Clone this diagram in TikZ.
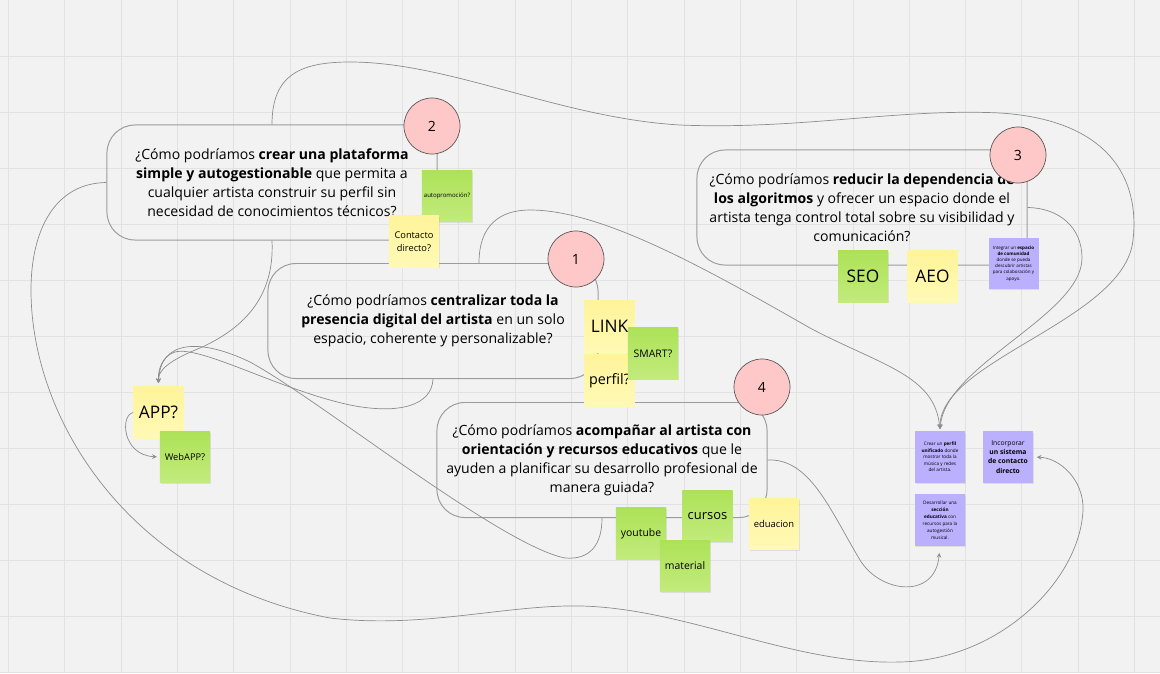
\documentclass[tikz,border=0pt]{standalone}
\usepackage{fontspec}
\setmainfont{Open Sans}
\usepackage{tikz}
\usepackage{xcolor}
\usetikzlibrary{arrows,calc,shadows}
\definecolor{paper}{RGB}{242,242,242}
\definecolor{gridgray}{RGB}{226,226,226}
\definecolor{boxgray}{RGB}{156,156,156}
\definecolor{linkgray}{RGB}{140,140,140}
\definecolor{numberpink}{RGB}{255,200,200}
\definecolor{yellowtop}{RGB}{255,244,154}
\definecolor{yellowbot}{RGB}{255,249,181}
\definecolor{greentop}{RGB}{173,226,88}
\definecolor{greenbot}{RGB}{194,235,124}
\definecolor{lilac}{RGB}{186,176,253}

\begin{document}
\begin{tikzpicture}[
    x=0.025cm, y=-0.025cm,
    every node/.style={align=center, font=\fontsize{10}{13.5}\selectfont},
    question/.style={rectangle, rounded corners=0.7cm, minimum width=8.25cm, minimum height=2.875cm, draw=boxgray, line width=0.7pt},
    number/.style={circle, minimum size=1.4cm, inner sep=0pt, draw=black!65, fill=numberpink, line width=0.5pt},
    sticky/.style={rectangle, minimum width=1.25cm, minimum height=1.28cm, inner sep=1pt, drop shadow={opacity=0.18, shadow xshift=0.5pt, shadow yshift=-0.9pt}},
    yellownote/.style={sticky, top color=yellowtop, bottom color=yellowbot},
    greennote/.style={sticky, top color=greentop, bottom color=greenbot},
    purplenote/.style={sticky, fill=lilac},
    big/.style={font=\fontsize{12.3}{14}\selectfont},
    small/.style={font=\fontsize{7.4}{9.5}\selectfont},
    tiny/.style={font=\fontsize{3.3}{4.6}\selectfont},
    link/.style={draw=linkgray, line width=0.5pt},
    arrow/.style={link, ->, >=stealth}
]
\useasboundingbox (0,0) rectangle (1160,673);
\fill[paper] (0,0) rectangle (1160,673);

% board grid
\foreach \gx in {0,...,20}
    \draw[gridgray, line width=0.6pt] ({8.5+56.3*\gx},0) -- ({8.5+56.3*\gx},673);
\foreach \gy in {1,...,12}
    \draw[gridgray, line width=0.6pt] (0,{56*\gy}) -- (1160,{56*\gy});

% question boxes
\node[question] (q2) at (272,182.5) {¿Cómo podríamos \textbf{crear una plataforma}\\\textbf{simple y autogestionable} que permita a\\cualquier artista construir su perfil sin\\necesidad de conocimientos técnicos?};
\node[question] (q1) at (433,321) {¿Cómo podríamos \textbf{centralizar toda la}\\\textbf{presencia digital del artista} en un solo\\espacio, coherente y personalizable?};
\node[question] (q3) at (862,207.5) {¿Cómo podríamos \textbf{reducir la dependencia de}\\\textbf{los algoritmos} y ofrecer un espacio donde el\\artista tenga control total sobre su visibilidad y\\comunicación?};
\node[question] (q4) at (602,460) {¿Cómo podríamos \textbf{acompañar al artista con}\\\textbf{orientación y recursos educativos} que le\\ayuden a planificar su desarrollo profesional de\\manera guiada?};

% numbers
\node[number] (n2) at (432,126) {2};
\node[number] (n1) at (576,259) {1};
\node[number] (n3) at (1018,155) {3};
\node[number] (n4) at (762,387) {4};

% ideas
\node[greennote, font=\fontsize{4.3}{5}\selectfont] (autog) at (447,196) {autopromoción?};
\node[yellownote, font=\fontsize{6.6}{9.5}\selectfont] (contacto) at (414,241.5) {Contacto\\directo?};
\node[yellownote, big] (linknote) at (609.5,326.5) {LINK};
\node[yellownote, font=\fontsize{10.2}{12}\selectfont] (perfil) at (609.5,380.5) {perfil?};
\node[greennote, small] (smart) at (653,353.5) {SMART?};
\node[greennote, big] (seo) at (863,276.5) {SEO};
\node[yellownote, big] (aeo) at (932.5,276.5) {AEO};
\node[purplenote, font=\fontsize{3.2}{4.4}\selectfont] (pd) at (1013.5,263.5) {Integrar un \textbf{espacio}\\\textbf{de comunidad}\\donde se pueda\\descubrir artistas\\para colaboración y\\apoyo.};
\node[yellownote, big] (app) at (158.5,412.5) {APP?};
\node[greennote, font=\fontsize{6.6}{8}\selectfont] (webapp) at (185,457) {WebAPP?};
\node[greennote, small] (youtube) at (641,533.5) {youtube};
\node[greennote, font=\fontsize{9.2}{11}\selectfont] (cursos) at (707.5,516) {cursos};
\node[greennote, small] (material) at (685,566) {material};
\node[yellownote, font=\fontsize{6.7}{8}\selectfont] (eduacion) at (774,524) {eduacion};

% solutions
\node[purplenote, tiny] (pa) at (940,457) {Crear un \textbf{perfil}\\\textbf{unificado} donde\\mostrar toda la\\música y redes\\del artista.};
\node[purplenote, font=\fontsize{4.8}{6.5}\selectfont] (pb) at (1008,457) {Incorporar\\\textbf{un sistema}\\\textbf{de contacto}\\\textbf{directo}};
\node[purplenote, font=\fontsize{3.3}{5}\selectfont] (pc) at (940,520) {Desarrollar una\\\textbf{sección}\\\textbf{educativa} con\\recursos para la\\autogestión\\musical.};

% connectors into the solutions
\draw[arrow, shorten >=1.5pt] (q2.north) .. controls (272,75) and (300,62) .. (350,62) .. controls (450,62) and (560,118) .. (680,125) .. controls (800,130) and (900,108) .. (1000,113) .. controls (1110,120) and (1140,180) .. (1133,240) .. controls (1125,320) and (940,360) .. (pa.north);
\draw[arrow, shorten >=1.5pt] (q3.east) .. controls (1060,208) and (1082,228) .. (1082,258) .. controls (1082,315) and (945,365) .. (pa.north);
\draw[arrow, shorten >=1.5pt] ($(q1.north)+(46,0)$) .. controls (479,225) and (500,210) .. (530,210) .. controls (600,210) and (700,265) .. (810,328) .. controls (880,365) and (935,375) .. (pa.north);
\draw[arrow, shorten >=2.5pt] (q2.west) .. controls (55,183) and (31,230) .. (31,290) .. controls (31,420) and (130,580) .. (330,618) .. controls (430,630) and (520,600) .. (600,607) .. controls (700,615) and (800,665) .. (900,662) .. controls (1000,660) and (1080,580) .. (1083,510) .. controls (1084,480) and (1060,458) .. (pb.east);
\draw[arrow, shorten >=5pt] (q4.east) .. controls (810,458) and (830,510) .. (860,560) .. controls (880,593) and (935,600) .. (pc.south);

% connectors into APP?
\draw[arrow, shorten >=2.5pt] (q2.south) .. controls (275,300) and (240,330) .. (200,348) .. controls (170,360) and (158,370) .. (app.north);
\draw[arrow, shorten >=2.5pt] (q1.south) .. controls (432,405) and (400,415) .. (350,405) .. controls (280,390) and (200,345) .. (175,352) .. controls (162,356) and (158,370) .. (app.north);
\draw[arrow, shorten >=2.5pt] (q4.south) .. controls (602,545) and (590,560) .. (565,558) .. controls (500,545) and (320,400) .. (250,362) .. controls (200,338) and (160,340) .. (app.north);
\draw[arrow, shorten >=2pt] (app.west) .. controls (120,415) and (122,455) .. (webapp.west);

\end{tikzpicture}
\end{document}
